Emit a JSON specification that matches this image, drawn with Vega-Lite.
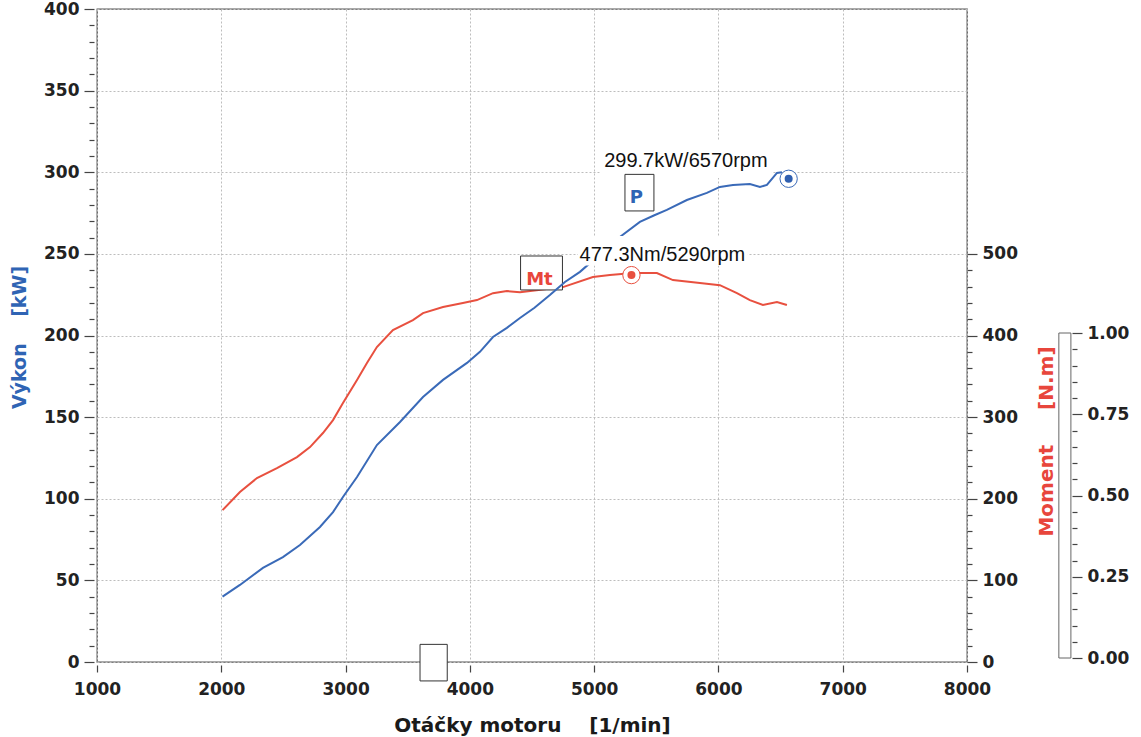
{
  "$schema": "https://vega.github.io/schema/vega-lite/v6.json",
  "width": 870,
  "height": 653,
  "autosize": {"type": "none"},
  "padding": {"left": 97, "top": 9, "right": 174, "bottom": 75},
  "background": "white",
  "config": {
    "view": {"stroke": "#555", "strokeWidth": 1.3},
    "axis": {
      "labelFont": "DejaVu Sans", "labelFontWeight": "bold", "labelFontSize": 17, "labelColor": "#222",
      "tickColor": "#444", "tickWidth": 1.2, "domain": false, "labelOverlap": false, "labelBound": false, "labelFlush": false,
      "titleFont": "DejaVu Sans", "titleFontWeight": "bold", "titleFontSize": 19,
      "gridColor": "#bdbdbd", "gridDash": [2, 2], "gridWidth": 1
    }
  },
  "encoding": {
    "x": {
      "field": "rpm", "type": "quantitative",
      "scale": {"domain": [1000, 8000], "nice": false, "zero": false},
      "axis": {
        "orient": "bottom", "offset": 3, "values": [1000, 2000, 3000, 4000, 5000, 6000, 7000, 8000],
        "format": "d", "tickSize": 7, "labelPadding": 9, "grid": true,
        "title": "Otáčky motoru\u00a0\u00a0\u00a0\u00a0[1/min]", "titleFontSize": 20, "titleColor": "#1a1a1a",
        "titleX": 435, "titleY": 66, "titleAlign": "center", "titleBaseline": "alphabetic"
      }
    }
  },
  "layer": [
    {
      "encoding": {
        "y": {
          "field": "nm", "type": "quantitative",
          "scale": {"domain": [0, 800], "nice": false},
          "axis": {
            "orient": "right", "offset": 0,
            "values": [0, 20, 40, 60, 80, 100, 120, 140, 160, 180, 200, 220, 240, 260, 280, 300, 320, 340, 360, 380, 400, 420, 440, 460, 480, 500],
            "labelExpr": "datum.value % 100 === 0 ? datum.label : ''",
            "tickSize": {"condition": {"test": "datum.value % 100 === 0", "value": 10}, "value": 5},
            "labelPadding": 5, "grid": false,
            "title": "Moment\u00a0\u00a0\u00a0\u00a0\u00a0[N.m]", "titleColor": "#e8463c", "titleAngle": 270, "titleFontSize": 20,
            "titleX": 79, "titleY": 432, "titleAlign": "center", "titleBaseline": "middle"
          }
        }
      },
      "layer": [
        {
          "data": {"values": [
            {"rpm": 2010, "nm": 186}, {"rpm": 2150, "nm": 208.2}, {"rpm": 2287, "nm": 225.3}, {"rpm": 2448, "nm": 237.6},
            {"rpm": 2609, "nm": 251.0}, {"rpm": 2714, "nm": 263.3}, {"rpm": 2818, "nm": 280.5}, {"rpm": 2899, "nm": 296.4},
            {"rpm": 2979, "nm": 317.2}, {"rpm": 3092, "nm": 345.4}, {"rpm": 3172, "nm": 366.2}, {"rpm": 3252, "nm": 385.8},
            {"rpm": 3381, "nm": 406.7}, {"rpm": 3542, "nm": 418.8}, {"rpm": 3623, "nm": 427.4}, {"rpm": 3784, "nm": 434.8},
            {"rpm": 3944, "nm": 439.7}, {"rpm": 4057, "nm": 443.4}, {"rpm": 4186, "nm": 451.9}, {"rpm": 4298, "nm": 454.4},
            {"rpm": 4403, "nm": 453.1}, {"rpm": 4520, "nm": 455}, {"rpm": 4749, "nm": 459.3}, {"rpm": 4990, "nm": 471.6},
            {"rpm": 5127, "nm": 474.0}, {"rpm": 5312, "nm": 476.5}, {"rpm": 5505, "nm": 476.5}, {"rpm": 5634, "nm": 467.9},
            {"rpm": 5851, "nm": 464.2}, {"rpm": 6012, "nm": 461.7}, {"rpm": 6149, "nm": 451.9}, {"rpm": 6253, "nm": 443.4},
            {"rpm": 6358, "nm": 437.3}, {"rpm": 6471, "nm": 441.0}, {"rpm": 6551, "nm": 437.3}
          ]},
          "mark": {"type": "line", "color": "#e8503f", "strokeWidth": 2}
        },
        {
          "data": {"values": [{"rpm": 5300, "nm": 474}]},
          "mark": {"type": "point", "shape": "circle", "size": 300, "filled": true, "fill": "white", "stroke": "#e8503f", "strokeWidth": 1, "opacity": 1}
        },
        {
          "data": {"values": [{"rpm": 5300, "nm": 474}]},
          "mark": {"type": "point", "shape": "circle", "size": 64, "filled": true, "color": "#e8503f", "opacity": 1}
        }
      ]
    },
    {
      "encoding": {
        "y": {
          "field": "kw", "type": "quantitative",
          "scale": {"domain": [0, 400], "nice": false},
          "axis": {
            "orient": "left", "offset": 3,
            "values": [0, 10, 20, 30, 40, 50, 60, 70, 80, 90, 100, 110, 120, 130, 140, 150, 160, 170, 180, 190, 200, 210, 220, 230, 240, 250, 260, 270, 280, 290, 300, 310, 320, 330, 340, 350, 360, 370, 380, 390, 400],
            "labelExpr": "datum.value % 50 === 0 ? datum.label : ''",
            "tickSize": {"condition": {"test": "datum.value % 50 === 0", "value": 10}, "value": 5},
            "labelPadding": 5, "grid": true,
            "gridOpacity": {"condition": {"test": "datum.value % 50 === 0", "value": 1}, "value": 0},
            "title": "Výkon\u00a0\u00a0\u00a0\u00a0[kW]", "titleColor": "#2f64b4", "titleAngle": 270,
            "titleX": -75, "titleY": 328, "titleAlign": "center", "titleBaseline": "middle"
          }
        }
      },
      "layer": [
        {
          "data": {"values": [{"rpm": 5046, "rpm2": 6430, "kw": 296.5, "kw2": 319.8}]},
          "mark": {"type": "rect", "fill": "white"},
          "encoding": {"x2": {"field": "rpm2"}, "y2": {"field": "kw2"}}
        },
        {
          "data": {"values": [
            {"rpm": 5248, "rpm2": 5481, "kw": 276.3, "kw2": 298.7},
            {"rpm": 4408, "rpm2": 4745, "kw": 227.9, "kw2": 248.7},
            {"rpm": 3599, "rpm2": 3818, "kw": -11.6, "kw2": 10.8}
          ]},
          "mark": {"type": "rect", "fill": "white", "stroke": "#333", "strokeWidth": 1},
          "encoding": {"x2": {"field": "rpm2"}, "y2": {"field": "kw2"}}
        },
        {
          "data": {"values": [
            {"rpm": 2010, "kw": 40}, {"rpm": 2150, "kw": 47.2}, {"rpm": 2335, "kw": 57.6}, {"rpm": 2496, "kw": 64.3},
            {"rpm": 2633, "kw": 71.7}, {"rpm": 2794, "kw": 82.7}, {"rpm": 2899, "kw": 91.8}, {"rpm": 2979, "kw": 101.1},
            {"rpm": 3092, "kw": 113.3}, {"rpm": 3252, "kw": 132.9}, {"rpm": 3438, "kw": 147.0}, {"rpm": 3623, "kw": 162.3},
            {"rpm": 3784, "kw": 172.8}, {"rpm": 3977, "kw": 183.2}, {"rpm": 4081, "kw": 190.0}, {"rpm": 4186, "kw": 199.1},
            {"rpm": 4298, "kw": 204.7}, {"rpm": 4403, "kw": 210.7}, {"rpm": 4520, "kw": 217}, {"rpm": 4644, "kw": 224.8},
            {"rpm": 4765, "kw": 232.8}, {"rpm": 4886, "kw": 239.0}, {"rpm": 5050, "kw": 250}, {"rpm": 5207, "kw": 260.3},
            {"rpm": 5368, "kw": 269.6}, {"rpm": 5480, "kw": 273.5}, {"rpm": 5585, "kw": 276.9}, {"rpm": 5746, "kw": 283.0},
            {"rpm": 5907, "kw": 287.4}, {"rpm": 6012, "kw": 291.0}, {"rpm": 6117, "kw": 292.2}, {"rpm": 6253, "kw": 292.8},
            {"rpm": 6334, "kw": 291.0}, {"rpm": 6390, "kw": 292.2}, {"rpm": 6471, "kw": 299.6}, {"rpm": 6511, "kw": 300.0}
          ]},
          "mark": {"type": "line", "color": "#3a6ab8", "strokeWidth": 2}
        },
        {
          "data": {"values": [{"rpm": 4870, "rpm2": 6237, "kw": 242.9, "kw2": 261.0}]},
          "mark": {"type": "rect", "fill": "white"},
          "encoding": {"x2": {"field": "rpm2"}, "y2": {"field": "kw2"}}
        },
        {
          "data": {"values": [
            {"rpm": 5738, "kw": 303.2, "label": "299.7kW/6570rpm"},
            {"rpm": 5549, "kw": 245.6, "label": "477.3Nm/5290rpm"}
          ]},
          "mark": {"type": "text", "font": "Liberation Sans", "fontSize": 20, "color": "#111", "align": "center", "baseline": "alphabetic"},
          "encoding": {"text": {"field": "label"}}
        },
        {
          "data": {"values": [{"rpm": 5340, "kw": 281.2, "label": "P"}]},
          "mark": {"type": "text", "font": "DejaVu Sans", "fontWeight": "bold", "fontSize": 18, "color": "#2f64b4", "align": "center", "baseline": "alphabetic"},
          "encoding": {"text": {"field": "label"}}
        },
        {
          "data": {"values": [{"rpm": 4560, "kw": 230.9, "label": "Mt"}]},
          "mark": {"type": "text", "font": "DejaVu Sans", "fontWeight": "bold", "fontSize": 18, "color": "#e8463c", "align": "center", "baseline": "alphabetic"},
          "encoding": {"text": {"field": "label"}}
        },
        {
          "data": {"values": [{"rpm": 6565, "kw": 296}]},
          "mark": {"type": "point", "shape": "circle", "size": 300, "filled": true, "fill": "white", "stroke": "#3a6ab8", "strokeWidth": 1, "opacity": 1}
        },
        {
          "data": {"values": [{"rpm": 6565, "kw": 296}]},
          "mark": {"type": "point", "shape": "circle", "size": 64, "filled": true, "color": "#2f5fb0", "opacity": 1}
        }
      ]
    },
    {
      "encoding": {
        "y": {
          "field": "m", "type": "quantitative",
          "scale": {"domain": [0, 1], "nice": false, "range": [649, 324]},
          "axis": {
            "orient": "right", "offset": 105,
            "values": [0, 0.05, 0.1, 0.15, 0.2, 0.25, 0.3, 0.35, 0.4, 0.45, 0.5, 0.55, 0.6, 0.65, 0.7, 0.75, 0.8, 0.85, 0.9, 0.95, 1],
            "format": ".2f",
            "labelExpr": "round(datum.value * 100) % 25 === 0 ? datum.label : ''",
            "tickSize": {"condition": {"test": "round(datum.value * 100) % 25 === 0", "value": 10}, "value": 5},
            "labelPadding": 5, "grid": false, "title": null
          }
        }
      },
      "layer": [
        {
          "data": {"values": [{"rpm": 8739, "rpm2": 8836, "m": 0, "m2": 1}]},
          "mark": {"type": "rect", "fill": "white", "stroke": "#666", "strokeWidth": 1},
          "encoding": {"x2": {"field": "rpm2"}, "y2": {"field": "m2"}}
        }
      ]
    }
  ],
  "resolve": {"scale": {"y": "independent"}, "axis": {"y": "independent"}}
}
